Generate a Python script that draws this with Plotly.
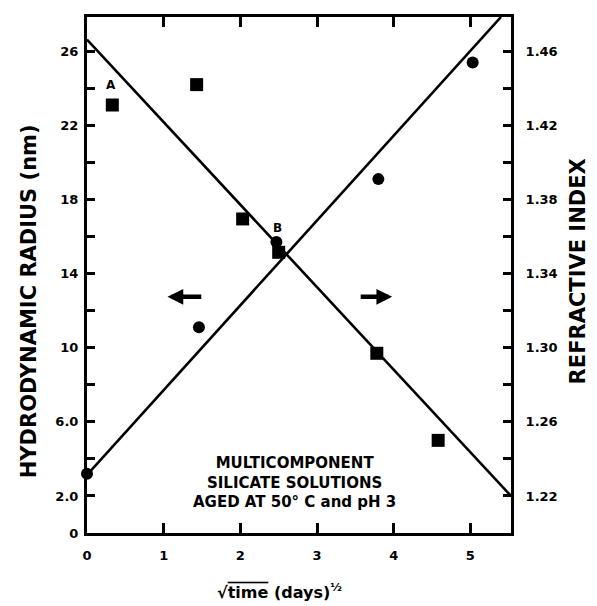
import plotly.graph_objects as go

# ---- data ----
time_circles = [0.0, 1.46, 2.47, 3.80, 5.03]          # sqrt(time) (days)^1/2
radius_nm = [3.2, 11.1, 15.7, 19.1, 25.4]             # hydrodynamic radius (nm), left axis

time_squares = [0.33, 1.43, 2.03, 2.50, 3.78, 4.58]
refr_index = [1.431, 1.442, 1.3695, 1.3515, 1.297, 1.250]  # refractive index, right axis

radius_line_x = [0.0, 5.40]
radius_line_y = [3.14, 27.85]
ri_line_x = [0.0, 5.53]
ri_line_y = [1.4663, 1.220]

x_ticks = [0, 1, 2, 3, 4, 5]
y_ticks = [0, 2, 4, 6, 8, 10, 12, 14, 16, 18, 20, 22, 24, 26]
y_ticktext = ["0", "2.0", "", "6.0", "", "10", "", "14", "", "18", "", "22", "", "26"]
y2_ticks = [1.20, 1.22, 1.24, 1.26, 1.28, 1.30, 1.32, 1.34, 1.36, 1.38, 1.40, 1.42, 1.44, 1.46]
y2_ticktext = ["", "1.22", "", "1.26", "", "1.30", "", "1.34", "", "1.38", "", "1.42", "", "1.46"]

FONT = "DejaVu Sans"
BLACK = "#000000"

fig = go.Figure()

fig.add_trace(go.Scatter(x=radius_line_x, y=radius_line_y, mode="lines",
                         line=dict(color=BLACK, width=2.6), showlegend=False))
fig.add_trace(go.Scatter(x=ri_line_x, y=ri_line_y, mode="lines", yaxis="y2",
                         line=dict(color=BLACK, width=2.6), showlegend=False))
fig.add_trace(go.Scatter(x=time_circles, y=radius_nm, mode="markers", cliponaxis=False,
                         marker=dict(symbol="circle", size=12, color=BLACK), showlegend=False))
fig.add_trace(go.Scatter(x=time_squares, y=refr_index, mode="markers", yaxis="y2", cliponaxis=False,
                         marker=dict(symbol="square", size=13, color=BLACK), showlegend=False))

bold = dict(family=FONT, weight="bold", color=BLACK)

annotations = [
    dict(x=0.31, y=24.2, xref="x", yref="y", text="A", showarrow=False,
         font=dict(size=12, **bold)),
    dict(x=2.49, y=16.45, xref="x", yref="y", text="B", showarrow=False,
         font=dict(size=12, **bold)),
    dict(x=2.71, y=2.74, xref="x", yref="y", xanchor="center", yanchor="middle",
         text="MULTICOMPONENT<br>SILICATE SOLUTIONS<br>AGED AT 50° C and pH 3",
         showarrow=False, align="center", font=dict(size=15, **bold)),
    # arrows pointing to the relevant axes
    dict(x=1.05, y=12.75, ax=1.51, ay=12.75, xref="x", yref="y", axref="x", ayref="y",
         text="", showarrow=True, arrowhead=2, arrowsize=0.7, arrowwidth=4.5, arrowcolor=BLACK),
    dict(x=3.98, y=12.75, ax=3.55, ay=12.75, xref="x", yref="y", axref="x", ayref="y",
         text="", showarrow=True, arrowhead=2, arrowsize=0.7, arrowwidth=4.5, arrowcolor=BLACK),
    # axis titles
    dict(x=-0.137, y=0.449, xref="paper", yref="paper", xanchor="center", yanchor="middle",
         text="HYDRODYNAMIC RADIUS (nm)", textangle=-90, showarrow=False,
         font=dict(size=21, **bold)),
    dict(x=1.158, y=0.507, xref="paper", yref="paper", xanchor="center", yanchor="middle",
         text="REFRACTIVE INDEX", textangle=-90, showarrow=False,
         font=dict(size=21, **bold)),
    dict(x=0.455, y=-0.114, xref="paper", yref="paper", xanchor="center", yanchor="middle",
         text="√<span style=\"text-decoration:overline\">time</span> (days)<sup>½</sup>",
         showarrow=False, font=dict(size=16, **bold)),
]

axis_common = dict(showline=True, linecolor=BLACK, linewidth=3, showgrid=False, zeroline=False,
                   ticks="inside", tickcolor=BLACK, tickfont=dict(size=13, **bold))

# the page body adds an 8px offset; compensate so the plot area lands where the reference has it
fig.update_layout(
    width=589, height=598,
    margin=dict(l=79, r=86, t=6, b=73),
    paper_bgcolor="white", plot_bgcolor="white",
    xaxis=dict(range=[0, 5.53], tickvals=x_ticks, mirror="ticks", ticklen=10, tickwidth=2.5,
               ticklabelstandoff=8, **axis_common),
    yaxis=dict(range=[0, 27.85], tickvals=y_ticks, ticktext=y_ticktext, ticklen=8, tickwidth=2.5,
               ticklabelstandoff=3, **axis_common),
    yaxis2=dict(range=[1.20, 1.4785], tickvals=y2_ticks, ticktext=y2_ticktext, overlaying="y",
                side="right", ticklen=8, tickwidth=2.5, ticklabelstandoff=9, **axis_common),
    annotations=annotations,
    showlegend=False,
)

fig.write_html("out.html")
